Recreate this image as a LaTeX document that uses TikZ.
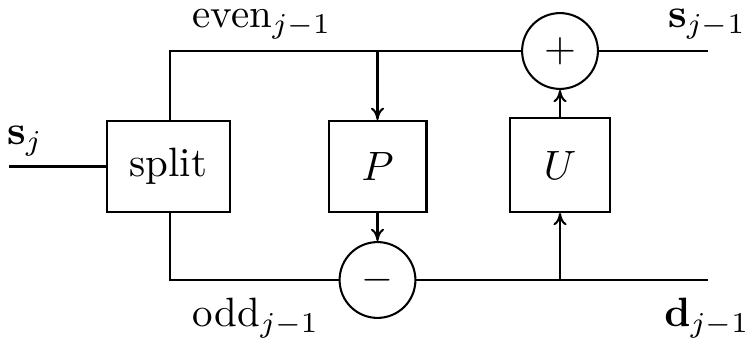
\documentclass[tikz,border=0pt]{standalone}
\usetikzlibrary{arrows.meta}
\begin{document}
\begin{tikzpicture}[x=0.244pt,y=-0.244pt, line width=0.5pt,
  blk/.style={draw, inner sep=0pt, minimum height=22.2pt},
  sumnode/.style={draw, circle, minimum size=18.5pt, inner sep=0pt},
  arr/.style={-{To[length=3pt,width=3.2pt]}},
  lbl/.style={inner sep=0pt}]
\useasboundingbox (0,0) rectangle (754,340);
% blocks
\node[blk, minimum width=30pt] (split) at (168.5,166.5) {split};
\node[blk, minimum width=23.9pt] (P) at (377.5,166.5) {$P$};
\node[blk, minimum width=24.2pt, minimum height=22.9pt] (U) at (560,165) {$U$};
\node[sumnode] (plus) at (560,51) {$+$};
\node[sumnode] (minus) at (377.5,280) {$-$};
% coordinates
\coordinate (in) at (9,166.5);
\coordinate (tl) at (170,51);
\coordinate (bl) at (170,280);
\coordinate (tp) at (377.5,51);
\coordinate (bu) at (560,280);
\coordinate (sOut) at (708,51);
\coordinate (dOut) at (708,280);
% lines
\draw (in) -- (split.west);
\draw (split.north -| tl) -- (tl) -- (plus.west);
\draw (plus.east) -- (sOut);
\draw (split.south -| bl) -- (bl) -- (minus.west);
\draw (minus.east) -- (dOut);
\draw[arr] (tp) -- (P.north);
\draw[arr] (P.south) -- (minus.north);
\draw[arr] (bu) -- (U.south);
\draw[arr] (U.north) -- (plus.south);
% labels
\node[lbl] (lsj) at (25,141) {$\mathbf{s}_j$};
\node[lbl] (leven) at (262,24) {even$_{j-1}$};
\node[lbl] (lodd) at (256,318) {odd$_{j-1}$};
\node[lbl] (lsout) at (707,24) {$\mathbf{s}_{j-1}$};
\node[lbl] (ldout) at (707,318) {$\mathbf{d}_{j-1}$};
\end{tikzpicture}
\end{document}
